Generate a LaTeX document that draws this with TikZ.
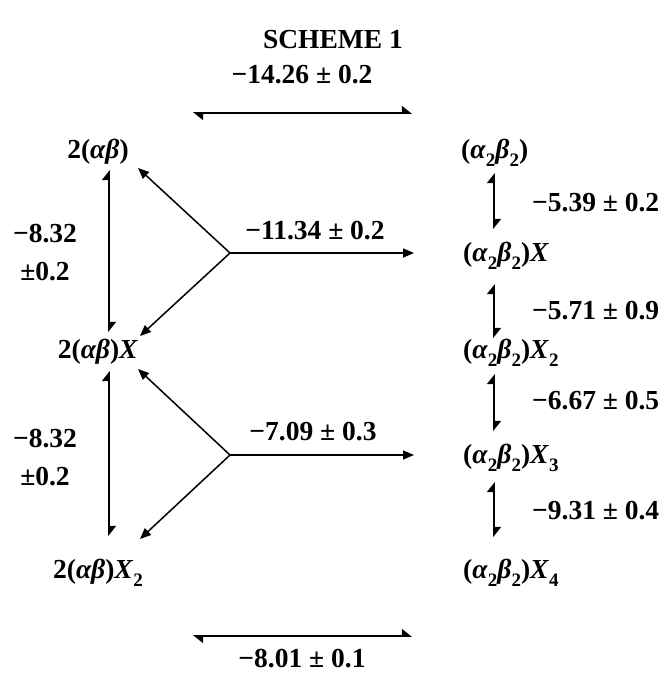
\documentclass[tikz,border=0pt]{standalone}
\usepackage{fontspec}
\setmainfont{Liberation Serif}
\usetikzlibrary{arrows.meta}
\newcommand{\mysb}[1]{\raisebox{-0.3em}{\fontsize{19}{19}\selectfont #1}}
\begin{document}
\begin{tikzpicture}[x=1pt,y=-1pt,
  lbl/.style={inner sep=0pt,font=\fontsize{27.5}{30}\selectfont\bfseries},
  eq/.style={line width=1.7pt,{Triangle[harpoon,length=9pt,width=14pt]}-{Triangle[harpoon,length=9pt,width=14pt]}},
  br/.style={line width=1.5pt,-{Triangle[length=11pt,width=9pt]}}]
\useasboundingbox (0,0) rectangle (668,673);
\node[lbl,anchor=base] (title) at (333,48) {SCHEME 1};
% top arrow
\coordinate (ta1) at (193,113); \coordinate (ta2) at (412,113);
\draw[eq] (ta1) -- (ta2);
\node[lbl,anchor=base] (k1) at (302,83) {−14.26 ± 0.2};
% left column
\node[lbl,anchor=base] (L1) at (98,158) {2(\textit{αβ})};
\node[lbl,anchor=base] (L2) at (98,358) {2(\textit{αβ})\textit{X}};
\node[lbl,anchor=base] (L3) at (98,578) {2(\textit{αβ})\textit{X}\mysb{2}};
\coordinate (lv1a) at (109,170); \coordinate (lv1b) at (109,332);
\coordinate (lv2a) at (109,371); \coordinate (lv2b) at (109,536);
\draw[eq] (lv1a) -- (lv1b);
\draw[eq] (lv2a) -- (lv2b);
\node[lbl,anchor=base] (m1) at (45,242) {−8.32};
\node[lbl,anchor=base] (m1b) at (45,280) {±0.2};
\node[lbl,anchor=base] (m2) at (45,447) {−8.32};
\node[lbl,anchor=base] (m2b) at (45,485) {±0.2};
% branches
\coordinate (j1) at (230,253);
\coordinate (j1u) at (138,168); \coordinate (j1d) at (140,336); \coordinate (j1r) at (414,253);
\draw[br] (j1) -- (j1u); \draw[br] (j1) -- (j1d); \draw[br] (j1) -- (j1r);
\node[lbl,anchor=base] (k2) at (315,239) {−11.34 ± 0.2};
\coordinate (j2) at (230,455);
\coordinate (j2u) at (138,369); \coordinate (j2d) at (140,539); \coordinate (j2r) at (414,455);
\draw[br] (j2) -- (j2u); \draw[br] (j2) -- (j2d); \draw[br] (j2) -- (j2r);
\node[lbl,anchor=base] (k3) at (313,440) {−7.09 ± 0.3};
% right column
\node[lbl,anchor=base west] (R0) at (461,158) {(\textit{α}\mysb{2}\textit{β}\mysb{2})};
\node[lbl,anchor=base west] (R1) at (463,261) {(\textit{α}\mysb{2}\textit{β}\mysb{2})\textit{X}};
\node[lbl,anchor=base west] (R2) at (463,358) {(\textit{α}\mysb{2}\textit{β}\mysb{2})\textit{X}\mysb{2}};
\node[lbl,anchor=base west] (R3) at (463,463) {(\textit{α}\mysb{2}\textit{β}\mysb{2})\textit{X}\mysb{3}};
\node[lbl,anchor=base west] (R4) at (463,578) {(\textit{α}\mysb{2}\textit{β}\mysb{2})\textit{X}\mysb{4}};
\coordinate (rv1a) at (494,173); \coordinate (rv1b) at (494,229);
\coordinate (rv2a) at (494,284); \coordinate (rv2b) at (494,338);
\coordinate (rv3a) at (494,374); \coordinate (rv3b) at (494,431);
\coordinate (rv4a) at (494,482); \coordinate (rv4b) at (494,537);
\draw[eq] (rv1a) -- (rv1b);
\draw[eq] (rv2a) -- (rv2b);
\draw[eq] (rv3a) -- (rv3b);
\draw[eq] (rv4a) -- (rv4b);
\node[lbl,anchor=base west] (r1) at (532,211) {−5.39 ± 0.2};
\node[lbl,anchor=base west] (r2) at (532,319) {−5.71 ± 0.9};
\node[lbl,anchor=base west] (r3) at (532,409) {−6.67 ± 0.5};
\node[lbl,anchor=base west] (r4) at (532,519) {−9.31 ± 0.4};
% bottom arrow
\coordinate (ba1) at (193,636); \coordinate (ba2) at (412,636);
\draw[eq] (ba1) -- (ba2);
\node[lbl,anchor=base] (k4) at (302,667) {−8.01 ± 0.1};
\end{tikzpicture}
\end{document}
